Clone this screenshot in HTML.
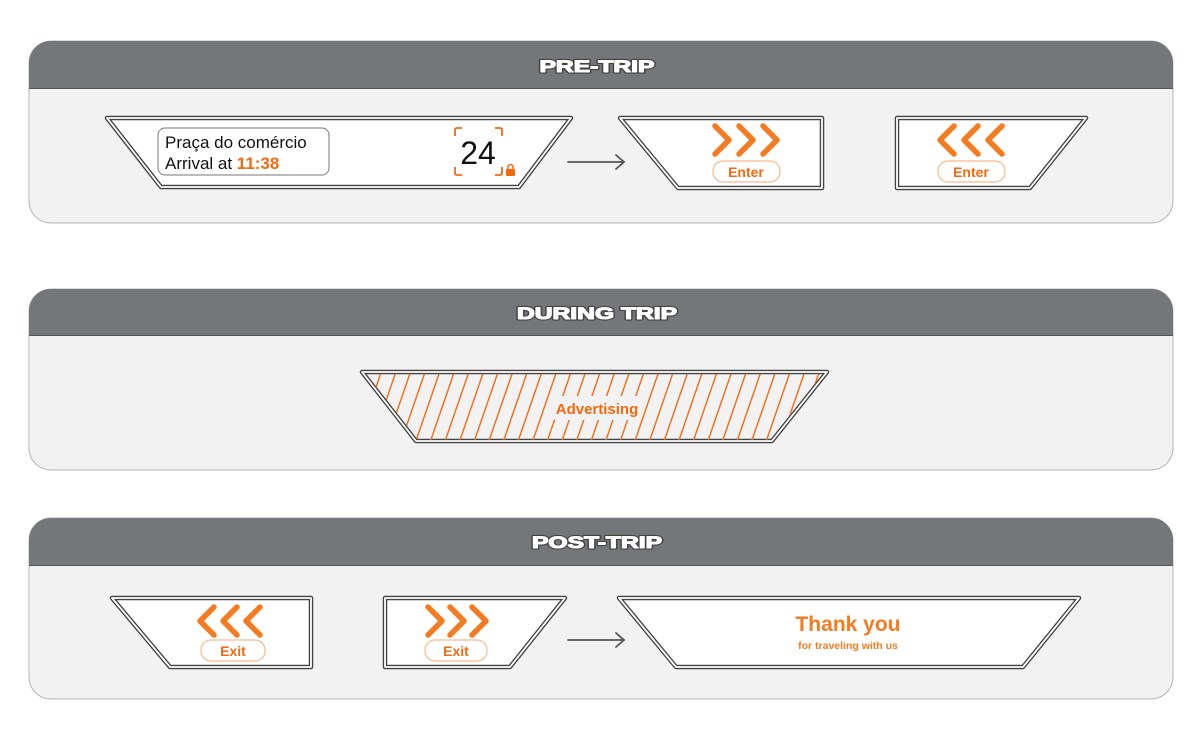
<!DOCTYPE html>
<html><head><meta charset="utf-8"><style>
html,body{margin:0;padding:0;background:#fff;}
svg{display:block}
.h{font-family:"Liberation Sans",sans-serif;font-weight:bold;font-size:17px}
.ho{fill:#444;stroke:#444;stroke-width:3.2;stroke-linejoin:round}
.hi{fill:#fff;stroke:#fff;stroke-width:1.1;stroke-linejoin:round}
.s{font-family:"Liberation Sans",sans-serif}
</style></head><body>
<svg width="1200" height="741" viewBox="0 0 1200 741" xmlns="http://www.w3.org/2000/svg">
<defs>
<pattern id="hat" patternUnits="userSpaceOnUse" width="14.6" height="72" patternTransform="translate(360,371) skewX(-19)">
<line x1="7" y1="0" x2="7" y2="72" stroke="#f26a10" stroke-width="1.5"/>
</pattern>
<clipPath id="advc"><polygon points="366,374 823,374 769,440 418,440"/></clipPath>
</defs>
<rect width="1200" height="741" fill="#fff"/>

<g>
<rect x="29" y="41" width="1144" height="182" rx="22" fill="#f2f2f2" stroke="#b5b5b5" stroke-width="1"/>
<path d="M29,88 V63 a22,22 0 0 1 22,-22 H1151 a22,22 0 0 1 22,22 V88 Z" fill="#757679"/>
<line x1="29" y1="88.5" x2="1173" y2="88.5" stroke="#555" stroke-width="1"/>
<g transform="translate(597,0) scale(1.45,1) translate(-597,0)">
<text class="h ho" x="597" y="72" text-anchor="middle">PRE-TRIP</text>
<text class="h hi" x="597" y="72" text-anchor="middle">PRE-TRIP</text></g>

<rect x="29" y="289" width="1144" height="181" rx="22" fill="#f2f2f2" stroke="#b5b5b5" stroke-width="1"/>
<path d="M29,335 V311 a22,22 0 0 1 22,-22 H1151 a22,22 0 0 1 22,22 V335 Z" fill="#757679"/>
<line x1="29" y1="335.5" x2="1173" y2="335.5" stroke="#555" stroke-width="1"/>
<g transform="translate(597,0) scale(1.45,1) translate(-597,0)">
<text class="h ho" x="597" y="319" text-anchor="middle">DURING TRIP</text>
<text class="h hi" x="597" y="319" text-anchor="middle">DURING TRIP</text></g>

<rect x="29" y="518" width="1144" height="181" rx="22" fill="#f2f2f2" stroke="#b5b5b5" stroke-width="1"/>
<path d="M29,565 V540 a22,22 0 0 1 22,-22 H1151 a22,22 0 0 1 22,22 V565 Z" fill="#757679"/>
<line x1="29" y1="565.5" x2="1173" y2="565.5" stroke="#555" stroke-width="1"/>
<g transform="translate(597,0) scale(1.45,1) translate(-597,0)">
<text class="h ho" x="597" y="548" text-anchor="middle">POST-TRIP</text>
<text class="h hi" x="597" y="548" text-anchor="middle">POST-TRIP</text></g>
</g>

<g stroke-linejoin="round">
<polygon points="107,118 571,118 519,187 161,187" fill="#fff" stroke="#444" stroke-width="4.5"/>
<polygon points="107,118 571,118 519,187 161,187" fill="none" stroke="#fff" stroke-width="1.8"/>
<polygon points="620,118 822,118 822,188 678,188" fill="#fff" stroke="#444" stroke-width="4.5"/>
<polygon points="620,118 822,118 822,188 678,188" fill="none" stroke="#fff" stroke-width="1.8"/>
<polygon points="897,118 1086,118 1030,188 897,188" fill="#fff" stroke="#444" stroke-width="4.5"/>
<polygon points="897,118 1086,118 1030,188 897,188" fill="none" stroke="#fff" stroke-width="1.8"/>
<polygon points="362,372 827,372 772,441 416,441" fill="#f2f2f2" stroke="#444" stroke-width="4.5"/>
<polygon points="362,372 827,372 772,441 416,441" fill="none" stroke="#fff" stroke-width="1.8"/>
<polygon points="112,598 311,598 311,667 170,667" fill="#fff" stroke="#444" stroke-width="4.5"/>
<polygon points="112,598 311,598 311,667 170,667" fill="none" stroke="#fff" stroke-width="1.8"/>
<polygon points="385,598 565,598 510,667 385,667" fill="#fff" stroke="#444" stroke-width="4.5"/>
<polygon points="385,598 565,598 510,667 385,667" fill="none" stroke="#fff" stroke-width="1.8"/>
<polygon points="619,598 1079,598 1023,667 676,667" fill="#fff" stroke="#444" stroke-width="4.5"/>
<polygon points="619,598 1079,598 1023,667 676,667" fill="none" stroke="#fff" stroke-width="1.8"/>
</g>

<rect x="360" y="371" width="470" height="72" fill="url(#hat)" clip-path="url(#advc)"/>
<rect x="549" y="396" width="94" height="24" rx="8" fill="#f2f2f2"/>
<text class="s" x="597" y="414" text-anchor="middle" font-size="15" font-weight="bold" fill="#f26a10">Advertising</text>

<rect x="158" y="128" width="171" height="47" rx="7" fill="#fff" stroke="#777" stroke-width="1"/>
<text class="s" x="165" y="148" font-size="17" fill="#111">Praça do comércio</text>
<text class="s" x="165" y="169" font-size="17" fill="#111">Arrival at <tspan fill="#f26a10" font-weight="bold">11:38</tspan></text>
<text class="s" x="478" y="164" text-anchor="middle" font-size="32" fill="#111">24</text>
<g stroke="#f26a10" stroke-width="1.8" fill="none">
<path d="M455,136 v-6 q0,-2 2,-2 h5"/>
<path d="M495,128 h5 q2,0 2,2 v6"/>
<path d="M455,167 v6 q0,2 2,2 h5"/>
<path d="M495,175 h5 q2,0 2,-2 v-6"/>
</g>
<rect x="506" y="169" width="9" height="7" rx="1" fill="#f26a10"/>
<path d="M508,169 v-2 a2.5,2.5 0 0 1 5,0 v2" fill="none" stroke="#f26a10" stroke-width="1.5"/>

<g stroke="#555" stroke-width="1.8" fill="none" stroke-linecap="round">
<line x1="568" y1="162" x2="624" y2="162"/><path d="M616,155 l8,7 l-8,7"/>
<line x1="568" y1="640" x2="624" y2="640"/><path d="M616,633 l8,7 l-8,7"/>
</g>

<g stroke="#f47b20" stroke-width="5.5" fill="none" stroke-linecap="round" stroke-linejoin="round">
<path d="M715,126 l14,14 l-14,14"/><path d="M739,126 l14,14 l-14,14"/><path d="M763,126 l14,14 l-14,14"/>
<path d="M954,126 l-14,14 l14,14"/><path d="M978,126 l-14,14 l14,14"/><path d="M1002,126 l-14,14 l14,14"/>
<path d="M214,607 l-14,14 l14,14"/><path d="M237,607 l-14,14 l14,14"/><path d="M260,607 l-14,14 l14,14"/>
<path d="M428,607 l14,14 l-14,14"/><path d="M450,607 l14,14 l-14,14"/><path d="M472,607 l14,14 l-14,14"/>
</g>
<g fill="#fff" stroke="#f9b98a" stroke-width="1.2">
<rect x="713" y="161" width="67" height="21" rx="10"/>
<rect x="938" y="161" width="67" height="21" rx="10"/>
<rect x="201" y="640" width="64" height="21" rx="10"/>
<rect x="425" y="640" width="62" height="21" rx="10"/>
</g>
<g class="s" font-size="14" font-weight="bold" fill="#f26a10" text-anchor="middle">
<text x="746" y="177">Enter</text>
<text x="971" y="177">Enter</text>
<text x="233" y="656">Exit</text>
<text x="456" y="656">Exit</text>
</g>

<text class="s" x="848" y="631" text-anchor="middle" font-size="21" font-weight="bold" fill="#f47b20">Thank you</text>
<text class="s" x="848" y="649" text-anchor="middle" font-size="10.5" font-weight="bold" fill="#f47b20">for traveling with us</text>
</svg>
</body></html>
